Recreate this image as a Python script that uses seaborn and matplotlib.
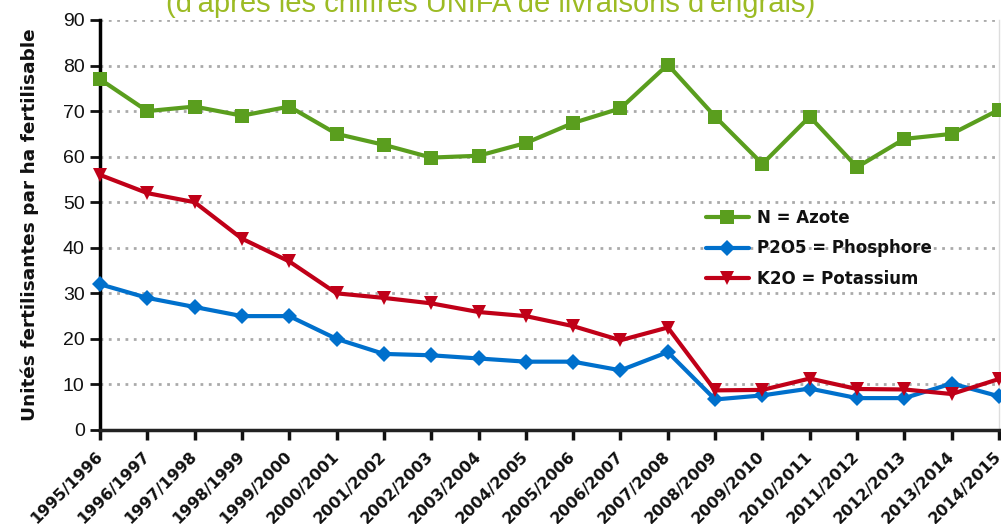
import numpy as np
import pandas as pd
import matplotlib
matplotlib.use("Agg")
import matplotlib.pyplot as plt
import seaborn as sns

# ---------------------------------------------------------------------------
# Data (livraisons d'engrais, unités par ha fertilisable)
# ---------------------------------------------------------------------------
campagnes = ["1995/1996", "1996/1997", "1997/1998", "1998/1999", "1999/2000",
             "2000/2001", "2001/2002", "2002/2003", "2003/2004", "2004/2005",
             "2005/2006", "2006/2007", "2007/2008", "2008/2009", "2009/2010",
             "2010/2011", "2011/2012", "2012/2013", "2013/2014", "2014/2015"]
azote = [77, 70, 71, 69, 71, 65, 62.6, 59.8, 60.2, 63,
         67.4, 70.6, 80.2, 68.8, 58.4, 68.8, 57.7, 63.9, 65, 70.3]
phosphore = [32, 29, 27, 25, 25, 20, 16.7, 16.4, 15.7, 15,
             15, 13.1, 17.1, 6.7, 7.6, 9.1, 7.0, 7.0, 10.2, 7.4]
potassium = [56, 52, 50, 42, 37, 30, 29, 27.8, 25.9, 25,
             22.8, 19.7, 22.5, 8.7, 8.8, 11.3, 9.0, 8.9, 7.9, 11.2]

labels = ["N = Azote", "P2O5 = Phosphore", "K2O = Potassium"]

GREEN = "#5A9E1E"
BLUE = "#0070CC"
RED = "#C00018"
TITLE_GREEN = "#9CBB24"

df = pd.DataFrame({
    "campagne": campagnes * 3,
    "idx": list(range(len(campagnes))) * 3,
    "valeur": azote + phosphore + potassium,
    "element": [labels[0]] * len(campagnes) + [labels[1]] * len(campagnes)
               + [labels[2]] * len(campagnes),
})

sns.set_theme(style="white")
plt.rcParams["font.family"] = ["DejaVu Sans"]

fig = plt.figure(figsize=(10.01, 5.24), dpi=100)
ax = fig.add_axes([100 / 1001, 94 / 524, 899 / 1001, 410 / 524])

sns.lineplot(data=df, x="idx", y="valeur", hue="element", style="element",
             palette={labels[0]: GREEN, labels[1]: BLUE, labels[2]: RED},
             markers={labels[0]: "s", labels[1]: "D", labels[2]: "v"},
             dashes=False, linewidth=3, markersize=10, markeredgewidth=0,
             clip_on=False, ax=ax, zorder=3)

# diamonds slightly smaller
for line in ax.get_lines():
    if line.get_marker() == "D":
        line.set_markersize(8)

ax.set_xlim(0, len(campagnes) - 1)
ax.set_ylim(0, 90)
ax.set_yticks(np.arange(0, 91, 10))
ax.set_xticks(range(len(campagnes)))
ax.set_xticklabels(campagnes, rotation=45, ha="right", va="center",
                   rotation_mode="anchor", fontsize=11.5, fontweight="bold",
                   color="#111111")
for t in ax.get_yticklabels():
    t.set_fontfamily("Liberation Sans")
    t.set_fontsize(14)
    t.set_color("#111111")

ax.set_xlabel("")
ax.set_ylabel("Unités fertilisantes par ha fertilisable", fontsize=13.3,
              fontweight="bold", color="#111111", labelpad=17)

ax.yaxis.grid(True, linestyle=(0, (1, 2)), color="#AAAAAA", linewidth=2)
ax.set_axisbelow(True)

ax.spines["top"].set_visible(False)
ax.spines["right"].set_color("#DDDDDD")
ax.spines["right"].set_linewidth(1)
ax.spines["left"].set_color("black")
ax.spines["left"].set_linewidth(2.5)
ax.spines["bottom"].set_color("#222222")
ax.spines["bottom"].set_linewidth(2.5)

ax.tick_params(axis="y", direction="out", length=7, width=2, left=True,
               pad=4, colors="#111111")
ax.tick_params(axis="x", direction="out", length=7, width=2.5, bottom=True,
               pad=10, colors="#111111")

leg = ax.legend(loc="upper left", bbox_to_anchor=(0.657, 0.576),
                frameon=False, handlelength=2.6, handletextpad=0.5,
                labelspacing=0.75, prop={"weight": "bold", "size": 12})
for txt in leg.get_texts():
    txt.set_color("#111111")

fig.text(0.49, 1 - 12.5 / 524,
         "(d'après les chiffres UNIFA de livraisons d'engrais)",
         ha="center", va="baseline", fontsize=21, color=TITLE_GREEN,
         fontfamily="Liberation Sans")

fig.savefig("out.png", dpi=100)
